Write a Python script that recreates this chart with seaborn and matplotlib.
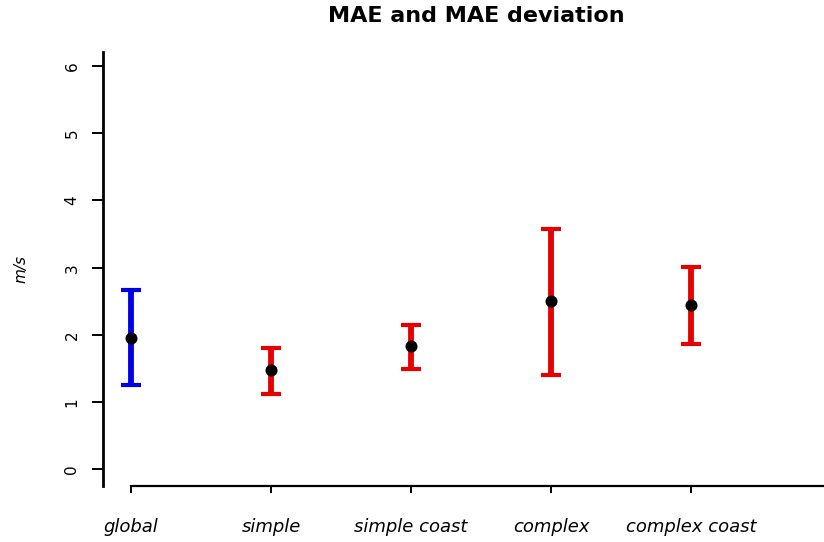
import matplotlib
matplotlib.use("Agg")
import matplotlib.pyplot as plt
import seaborn as sns
import pandas as pd
import numpy as np

categories = ["global", "simple", "simple coast", "complex", "complex coast"]
mae = [1.96, 1.47, 1.83, 2.50, 2.44]
upper = [2.66, 1.80, 2.14, 3.57, 3.01]
lower = [1.25, 1.12, 1.49, 1.40, 1.87]
colors = ["#0000e6", "#e60000", "#e60000", "#e60000", "#e60000"]
yticks = [0, 1, 2, 3, 4, 5, 6]

sns.set_style("white")
plt.rcParams['font.family'] = ['DejaVu Sans']
plt.rcParams['text.color'] = 'black'
plt.rcParams['axes.labelcolor'] = 'black'
plt.rcParams['xtick.color'] = 'black'
plt.rcParams['ytick.color'] = 'black'

df = pd.DataFrame({"cat": categories, "pos": np.arange(1, len(categories) + 1),
                   "mae": mae, "lo": lower, "hi": upper, "col": colors})

fig = plt.figure(figsize=(8.24, 5.42), dpi=100)
ax = fig.add_axes([103/824, 56/542, 1 - 103/824, 434/542])

for _, r in df.iterrows():
    ax.errorbar(r["pos"], r["mae"], yerr=[[r["mae"] - r["lo"]], [r["hi"] - r["mae"]]],
                fmt="none", ecolor=r["col"], elinewidth=4.2, capsize=7, capthick=3.0)
sns.scatterplot(data=df, x="pos", y="mae", color="black", s=75, marker="o",
                edgecolor="black", linewidth=0, ax=ax, zorder=5, legend=False)

ax.set_xlim(0.8, 5.95)
ax.set_ylim(-0.25, 6.21)
sns.despine(ax=ax)
ax.spines["bottom"].set_bounds(1, 5.95)
ax.spines["left"].set_linewidth(2.0)
ax.spines["bottom"].set_linewidth(1.6)
for s in ["left", "bottom"]:
    ax.spines[s].set_color("black")

ax.set_yticks(yticks)
ax.set_yticklabels([str(v) for v in yticks], rotation=90, va="center", fontsize=11)
ax.set_xticks(df["pos"])
ax.set_xticklabels(categories, fontsize=13, style="italic")
ax.tick_params(axis="y", length=8, width=1.4, left=True, pad=9)
ax.tick_params(axis="x", length=5, width=1.4, bottom=True, pad=18)
ax.set_xlabel("")
ax.set_ylabel("m/s", style="italic", fontsize=11, labelpad=26)
fig.text(0.578, 0.970, "MAE and MAE deviation", ha="center", va="center",
         fontsize=16, fontweight="bold")

fig.savefig("out.png", dpi=100)
